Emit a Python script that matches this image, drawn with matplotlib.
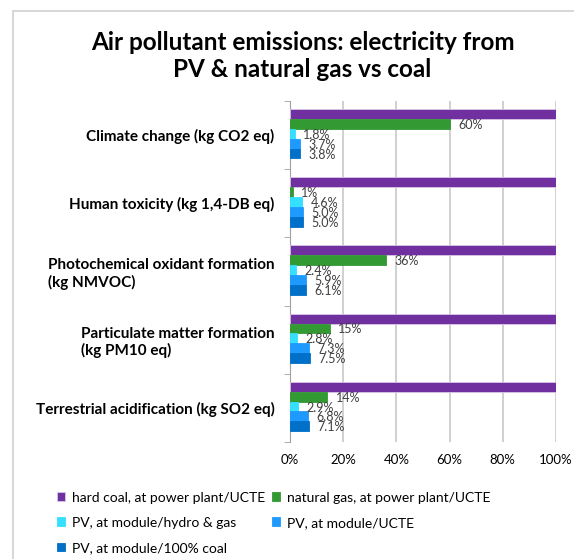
import numpy as np
import matplotlib.pyplot as plt
from matplotlib.patches import Rectangle

plt.rcParams['font.family'] = ['Lato', 'DejaVu Sans']

categories = [
    'Climate change (kg CO2 eq)',
    'Human toxicity (kg 1,4-DB eq)',
    'Photochemical oxidant formation\n(kg NMVOC)',
    'Particulate matter formation\n(kg PM10 eq)',
    'Terrestrial acidification (kg SO2 eq)',
]
series_names = [
    'hard coal, at power plant/UCTE',
    'natural gas, at power plant/UCTE',
    'PV, at module/hydro & gas',
    'PV, at module/UCTE',
    'PV, at module/100% coal',
]
hard_coal = [100, 100, 100, 100, 100]
natural_gas = [60, 1, 36, 15, 14]
pv_hydro_gas = [1.8, 4.6, 2.4, 2.8, 2.9]
pv_ucte = [3.7, 5.0, 5.9, 7.3, 6.8]
pv_coal = [3.8, 5.0, 6.1, 7.5, 7.1]

series = [hard_coal, natural_gas, pv_hydro_gas, pv_ucte, pv_coal]
colors = ['#7030A0', '#339933', '#33E0FF', '#1E9AFF', '#0070C8']
label_fmt = [None, '{:.0f}%', '{:.1f}%', '{:.1f}%', '{:.1f}%']

fig = plt.figure(figsize=(5.74, 5.59), dpi=100)
fig.patches.append(Rectangle((13 / 574, -0.01), 1.0, 1 - 11 / 559 + 0.01,
                             transform=fig.transFigure, fill=False,
                             edgecolor='#D0D0D0', linewidth=1.2))

ax = fig.add_axes([290 / 574, 1 - 442 / 559, 266 / 574, 341 / 559])

y = np.arange(len(categories))
h = 0.145
for j, (vals, col) in enumerate(zip(series, colors)):
    pos = y + (j - 2) * h - 0.02
    bars = ax.barh(pos, vals, height=h, color=col, label=series_names[j],
                   edgecolor='#D8C8E8' if j == 0 else col, linewidth=0.6, zorder=3)
    if label_fmt[j]:
        txt = ax.bar_label(bars, labels=[label_fmt[j].format(v) for v in vals],
                           padding=6, fontsize=9, color='#404040', zorder=4)
        for t in txt:
            t.set_va('center_baseline')

ax.set_ylim(len(categories) - 0.5, -0.5)
ax.set_xlim(0, 100)
ax.set_xticks(np.arange(0, 101, 20))
ax.set_xticklabels([f'{t}%' for t in range(0, 101, 20)], fontsize=9.5)
ax.set_yticks(y)
ax.set_yticklabels(categories, fontsize=11, fontweight='bold', multialignment='left')
ax.set_yticks(np.arange(-0.5, len(categories), 1), minor=True)
ax.tick_params(axis='y', which='major', length=0, pad=11)
ax.tick_params(axis='y', which='minor', length=4, color='#A0A0A0')
ax.tick_params(axis='x', length=0, pad=9)
ax.grid(axis='x', color='#C8C8C8', linewidth=1.2, zorder=0)
for s in ['top', 'right', 'bottom']:
    ax.spines[s].set_visible(False)
ax.spines['left'].set_color('#A0A0A0')

fig.text(0.527, 1 - 42 / 559, 'Air pollutant emissions: electricity from',
         ha='center', va='center', fontsize=17.5, fontweight='bold')
fig.text(0.527, 1 - 70 / 559, 'PV & natural gas vs coal',
         ha='center', va='center', fontsize=17.5, fontweight='bold')

handles, labels = ax.get_legend_handles_labels()
order = [0, 2, 4, 1, 3]
fig.legend([handles[i] for i in order], [labels[i] for i in order],
           loc='upper left', bbox_to_anchor=(44 / 574, 1 - 479 / 559),
           ncol=2, frameon=False, fontsize=10, handlelength=0.6,
           handleheight=0.6, handletextpad=0.5, columnspacing=0.5,
           labelspacing=0.95)

fig.savefig('out.png', dpi=100)
